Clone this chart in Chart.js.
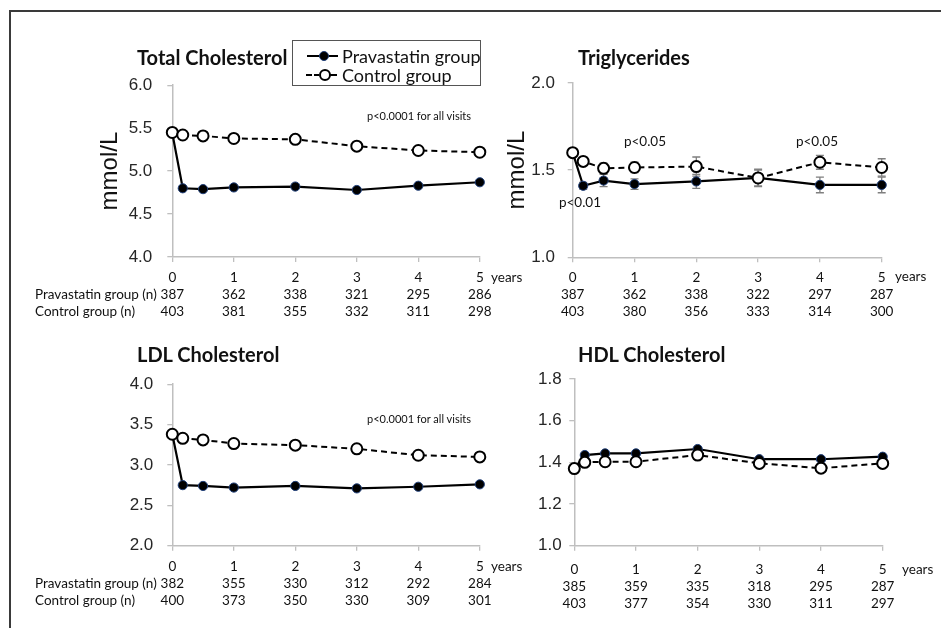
<!DOCTYPE html>
<html><head><meta charset="utf-8">
<script src="https://cdn.jsdelivr.net/npm/chart.js@4.4.0/dist/chart.umd.min.js"></script>
<style>
body{margin:0;background:#fff;}
#page{position:relative;width:941px;height:628px;overflow:hidden;font-family:Lato,'Open Sans',sans-serif;color:#111;}
.frame{position:absolute;left:9px;top:10px;width:980px;height:700px;border-top:2px solid #3a3a3a;border-left:2px solid #3a3a3a;}
.t{position:absolute;white-space:nowrap;line-height:1;transform:translateY(-50%);}
.c{position:absolute;white-space:nowrap;line-height:1;transform:translate(-50%,-50%);}
.title{font-weight:700;font-size:20px;}
.s{font-size:13.5px;}
.pa{font-size:11px;}
.p{font-size:13.5px;}
canvas{position:absolute;}
.legend{position:absolute;left:292px;top:40px;width:187px;height:44px;border:1px solid #555;background:#fff;}
.seg{position:absolute;height:2px;background:#000;}
.dot{position:absolute;border-radius:50%;box-sizing:border-box;}
</style></head>
<body><div id="page">
<div class="frame"></div>

<canvas id="tc" width="410" height="280" style="left:95px;top:60px"></canvas>
<canvas id="tg" width="420" height="280" style="left:495px;top:60px"></canvas>
<canvas id="ldl" width="410" height="268" style="left:95px;top:360px"></canvas>
<canvas id="hdl" width="420" height="268" style="left:495px;top:360px"></canvas>

<div class="t title" style="left:137px;top:57px">Total Cholesterol</div>
<div class="t title" style="left:578px;top:57px">Triglycerides</div>
<div class="t title" style="left:137px;top:354px">LDL Cholesterol</div>
<div class="t title" style="left:578px;top:354px">HDL Cholesterol</div>

<div class="t pa" style="left:367px;top:115px">p&lt;0.0001 for all visits</div>
<div class="t pa" style="left:367px;top:418px">p&lt;0.0001 for all visits</div>
<div class="c p" style="left:645px;top:142px">p&lt;0.05</div>
<div class="c p" style="left:817px;top:142px">p&lt;0.05</div>
<div class="c p" style="left:580px;top:203px">p&lt;0.01</div>

<div class="t s" style="left:35px;top:295px">Pravastatin group (n)</div>
<div class="t s" style="left:35px;top:312px">Control group (n)</div>
<div class="t s" style="left:35px;top:584px">Pravastatin group (n)</div>
<div class="t s" style="left:35px;top:601px">Control group (n)</div>

<div class="t s" style="left:491px;top:278px">years</div>
<div class="t s" style="left:895px;top:277px">years</div>
<div class="t s" style="left:491px;top:567px">years</div>
<div class="t s" style="left:902px;top:570px">years</div>

<div class="legend">
  <div class="seg" style="left:14px;top:14px;width:31px"></div>
  <div class="dot" style="left:26px;top:10px;width:10px;height:10px;background:#000;border:1px solid #1f3f7a"></div>
  <div class="t" style="left:49px;top:15px;font-size:18px">Pravastatin group</div>
  <div class="seg" style="left:13px;top:33px;width:6px"></div>
  <div class="seg" style="left:21px;top:33px;width:5px"></div>
  <div class="seg" style="left:37px;top:33px;width:7px"></div>
  <div class="dot" style="left:26px;top:28px;width:12px;height:12px;background:#fff;border:2px solid #000"></div>
  <div class="t" style="left:49px;top:34px;font-size:18px">Control group</div>
</div>
</div>
<script>
// ---- data ----
const years = [0, 1, 2, 3, 4, 5];
const visits = [0, 0.17, 0.5, 1, 2, 3, 4, 5];

const tcPrava   = [5.44, 4.80, 4.79, 4.81, 4.82, 4.78, 4.83, 4.87];
const tcControl = [5.45, 5.42, 5.41, 5.38, 5.37, 5.29, 5.24, 5.22];
const tcNPrava   = [387, 362, 338, 321, 295, 286];
const tcNControl = [403, 381, 355, 332, 311, 298];

const tgPrava   = [1.60, 1.41, 1.44, 1.42, 1.435, 1.455, 1.415, 1.415];
const tgControl = [1.60, 1.55, 1.51, 1.515, 1.52, 1.455, 1.545, 1.515];
const tgPravaErr   = [0.01, 0.02, 0.035, 0.03, 0.04, 0.05, 0.045, 0.045];
const tgControlErr = [0.01, 0.02, 0.03, 0.03, 0.055, 0.045, 0.04, 0.05];
const tgNPrava   = [387, 362, 338, 322, 297, 287];
const tgNControl = [403, 380, 356, 333, 314, 300];

const ldlPrava   = [3.38, 2.75, 2.74, 2.72, 2.74, 2.71, 2.73, 2.76];
const ldlControl = [3.38, 3.33, 3.31, 3.265, 3.245, 3.20, 3.12, 3.10];
const ldlNPrava   = [382, 355, 330, 312, 292, 284];
const ldlNControl = [400, 373, 350, 330, 309, 301];

const hdlPrava   = [1.37, 1.435, 1.443, 1.443, 1.464, 1.415, 1.415, 1.427];
const hdlControl = [1.37, 1.40, 1.403, 1.403, 1.435, 1.395, 1.372, 1.395];
const hdlNPrava   = [385, 359, 335, 318, 295, 287];
const hdlNControl = [403, 377, 354, 330, 311, 297];

const errPlugin = {
  id: 'errbars',
  beforeDatasetsDraw(chart) {
    const ctx = chart.ctx, xs = chart.scales.x, ys = chart.scales.y;
    ctx.save();
    ctx.strokeStyle = '#7f7f7f';
    ctx.lineWidth = 1.3;
    [[tgControl, tgControlErr], [tgPrava, tgPravaErr]].forEach(([vals, errs]) => {
      vals.forEach((v, i) => {
        const px = xs.getPixelForValue(visits[i]);
        const top = ys.getPixelForValue(v + errs[i]);
        const bot = ys.getPixelForValue(v - errs[i]);
        ctx.beginPath();
        ctx.moveTo(px, top); ctx.lineTo(px, bot);
        ctx.moveTo(px - 4, top); ctx.lineTo(px + 4, top);
        ctx.moveTo(px - 4, bot); ctx.lineTo(px + 4, bot);
        ctx.stroke();
      });
    });
    ctx.restore();
  }
};

function panel(id, cfg) {
  const pts = arr => visits.map((x, i) => ({x: x, y: arr[i]}));
  const datasets = [
    {label: 'Control group', data: pts(cfg.control), borderColor: '#000', borderWidth: 2,
     borderDash: [6, 4], pointRadius: 5.5, pointBackgroundColor: '#fff', pointBorderColor: '#000',
     pointBorderWidth: 2, clip: false, tension: 0},
    {label: 'Pravastatin group', data: pts(cfg.prava), borderColor: '#000', borderWidth: 2.2,
     pointRadius: 4.6, pointBackgroundColor: '#000', pointBorderColor: '#1f3f7a',
     pointBorderWidth: 1, clip: false, tension: 0}
  ];
  new Chart(document.getElementById(id), {
    type: 'line',
    data: {datasets: datasets},
    plugins: cfg.err ? [errPlugin] : [],
    options: {
      responsive: false, animation: false,
      layout: {padding: {left: cfg.padL, top: cfg.padT, right: cfg.padR, bottom: 0}},
      plugins: {legend: {display: false}, tooltip: {enabled: false}},
      scales: {
        x: {
          type: 'linear', min: 0, max: 5,
          afterFit: s => { s.height = cfg.xH; },
          afterBuildTicks: s => { s.ticks = years.map(v => ({value: v})); },
          grid: {drawOnChartArea: false, drawTicks: true, tickLength: 5, color: '#bfbfbf', lineWidth: 1.3},
          border: {color: '#bfbfbf', width: 1.5},
          ticks: {
            autoSkip: false, maxRotation: 0, padding: cfg.xPad, color: '#111',
            font: {family: 'Lato', size: 13.5, lineHeight: 1.26},
            callback: v => { const i = years.indexOf(v); return [String(v), String(cfg.nP[i]), String(cfg.nC[i])]; }
          }
        },
        y: {
          min: cfg.min, max: cfg.max,
          afterFit: s => { s.width = cfg.yW; },
          grid: {drawOnChartArea: false, drawTicks: true, tickLength: 5, color: '#bfbfbf', lineWidth: 1.3},
          border: {color: '#bfbfbf', width: 1.5},
          ticks: {stepSize: cfg.step, padding: cfg.yPad, color: '#262626',
                  font: {family: 'Liberation Sans', size: 17},
                  callback: v => Number(v).toFixed(1)},
          title: {display: !!cfg.yTitle, text: 'mmol/L', color: '#111',
                  font: {family: 'Liberation Sans', size: 24}, padding: {top: 0, bottom: 0}}
        }
      }
    }
  });
}

panel('tc', {prava: tcPrava, control: tcControl, nP: tcNPrava, nC: tcNControl,
  min: 4, max: 6, step: 0.5, yTitle: true,
  padL: 1, padT: 22, padR: 25.2, yW: 76.3, xH: 83, xPad: 7.5, yPad: 15});
panel('tg', {prava: tgPrava, control: tgControl, nP: tgNPrava, nC: tgNControl,
  min: 1, max: 2, step: 0.5, yTitle: true, err: true,
  padL: 7.6, padT: 22.7, padR: 33.3, yW: 70.1, xH: 82.7, xPad: 6.5, yPad: 12.7});
panel('ldl', {prava: ldlPrava, control: ldlControl, nP: ldlNPrava, nC: ldlNControl,
  min: 2, max: 4, step: 0.5, yTitle: false,
  padL: 1, padT: 19, padR: 25.2, yW: 76.3, xH: 82.3, xPad: 7.5, yPad: 14});
panel('hdl', {prava: hdlPrava, control: hdlControl, nP: hdlNPrava, nC: hdlNControl,
  min: 1, max: 1.8, step: 0.2, yTitle: false,
  padL: 8, padT: 19, padR: 32.3, yW: 71.3, xH: 82.3, xPad: 10.8, yPad: 7.6});
</script>
</body></html>
